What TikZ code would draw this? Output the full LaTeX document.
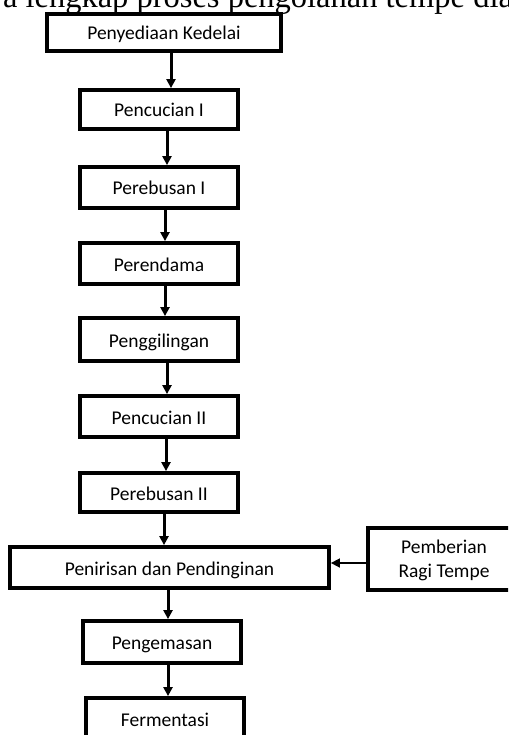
\documentclass[tikz,border=0pt]{standalone}
\usepackage{fontspec}
\setmainfont{Carlito}
\newfontfamily\titlefont{Liberation Serif}
\usetikzlibrary{arrows.meta}
\tikzset{
  box/.style={draw=black, line width=3.8pt, inner sep=0pt, text height=15pt, text depth=0pt,
    font=\fontsize{19.5}{24}\selectfont, align=center},
  flow/.style={line width=3pt, -{Triangle[length=9pt,width=9pt]}},
  thin flow/.style={line width=1.6pt, -{Triangle[length=9pt,width=9pt]}}
}
\begin{document}
\begin{tikzpicture}[x=1pt,y=-1pt]
\useasboundingbox (0,0) rectangle (508,735);
\clip (0,0) rectangle (508,735);
\node[anchor=base west, font=\titlefont\fontsize{32.5}{36}\selectfont, inner sep=0pt] (title) at (-8,7.5) {ra lengkap proses pengolahan tempe dia};
\node[box, minimum width=234pt, minimum height=37pt] (b1) at (164,32.5) {Penyediaan Kedelai};
\node[box, minimum width=158pt, minimum height=39pt] (b2) at (159,109.5) {Pencucian I};
\node[box, minimum width=158pt, minimum height=41pt] (b3) at (159,187.5) {Perebusan I};
\node[box, minimum width=158pt, minimum height=41pt] (b4) at (159,263.5) {Perendama};
\node[box, minimum width=158pt, minimum height=43pt] (b5) at (159,339.5) {Penggilingan};
\node[box, minimum width=158pt, minimum height=41pt] (b6) at (159,416.5) {Pencucian II};
\node[box, minimum width=158pt, minimum height=39pt] (b7) at (159,492.5) {Perebusan II};
\node[box, minimum width=319pt, minimum height=41pt] (b8) at (169.5,567.5) {Penirisan dan Pendinginan};
\node[box, minimum width=158pt, minimum height=42pt] (b9) at (162,642) {Pengemasan};
\node[box, minimum width=158pt, minimum height=42pt] (b10) at (165,719) {Fermentasi};
\node[box, minimum width=152pt, minimum height=62pt, text height=36pt, text depth=0pt] (ragi) at (444,559) {Pemberian\\Ragi Tempe};
\coordinate (hy) at (0,563);
\draw[flow] ([xshift=7pt]b1.south) -- ([xshift=7pt]b1.south |- b2.north);
\draw[flow] ([xshift=8pt]b2.south) -- ([xshift=8pt]b2.south |- b3.north);
\draw[flow] ([xshift=6pt]b3.south) -- ([xshift=6pt]b3.south |- b4.north);
\draw[flow] ([xshift=6pt]b4.south) -- ([xshift=6pt]b4.south |- b5.north);
\draw[flow] ([xshift=8pt]b5.south) -- ([xshift=8pt]b5.south |- b6.north);
\draw[flow] ([xshift=7pt]b6.south) -- ([xshift=7pt]b6.south |- b7.north);
\draw[flow] ([xshift=5pt]b7.south) -- ([xshift=5pt]b7.south |- b8.north);
\draw[flow] ([xshift=-1.5pt]b8.south) -- ([xshift=-1.5pt]b8.south |- b9.north);
\draw[flow] ([xshift=6pt]b9.south) -- ([xshift=6pt]b9.south |- b10.north);
\draw[thin flow] (ragi.west |- hy) -- (b8.east |- hy);
\end{tikzpicture}
\end{document}
